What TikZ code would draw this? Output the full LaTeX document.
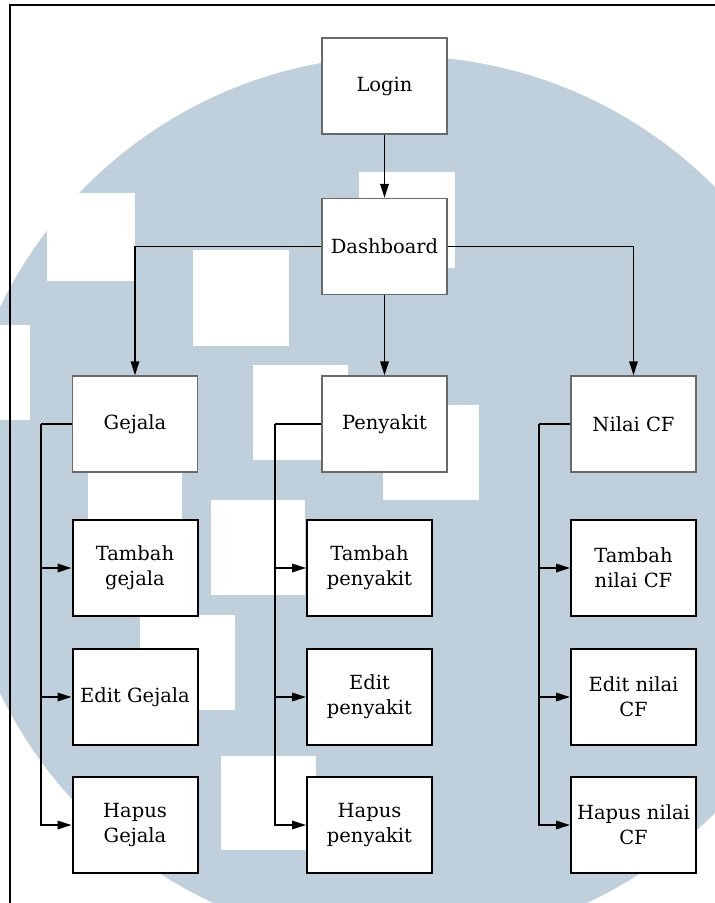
\documentclass[tikz,border=0pt]{standalone}
\usepackage{fontspec}
\setmainfont{DejaVu Serif}
\usetikzlibrary{arrows.meta}
\definecolor{wmblue}{RGB}{191,207,220}
\definecolor{topgray}{RGB}{105,105,105}
\tikzset{
  topbox/.style={draw=topgray, line width=1.4pt, fill=white, minimum width=125pt, minimum height=96pt, inner sep=0pt, align=center, font=\fontsize{19.5}{25}\selectfont},
  subbox/.style={draw=black, line width=2pt, fill=white, minimum width=125pt, minimum height=96pt, inner sep=0pt, align=center, font=\fontsize{19.5}{25}\selectfont},
  conn/.style={draw=black, line width=1.6pt},
  arr/.style={conn, -{Triangle[length=14pt,width=8.5pt]}},
  wsq/.style={fill=white}
}
\begin{document}
\begin{tikzpicture}[x=1pt,y=-1pt]
\useasboundingbox (0,0) rectangle (715,903);
\fill[white] (0,0) rectangle (715,903);
\begin{scope}
\clip (0,0) rectangle (715,903);
\fill[wmblue] (400,500) circle (444pt);
% watermark squares
\fill[wsq] (47,193) rectangle (135,281);
\fill[wsq] (193,250) rectangle (289,346);
\fill[wsq] (359,172) rectangle (455,268);
\fill[wsq] (0,325) rectangle (30,420);
\fill[wsq] (253,365) rectangle (348,460);
\fill[wsq] (383,405) rectangle (479,500);
\fill[wsq] (88,473) rectangle (182,568);
\fill[wsq] (211,500) rectangle (305,595);
\fill[wsq] (140,615) rectangle (235,710);
\fill[wsq] (221,756) rectangle (316,850);
\end{scope}
% frame
\draw[line width=2.6pt] (10,904) -- (10,5) -- (716,5);
% top-level nodes
\node[topbox] (login) at (384.5,86) {Login};
\node[topbox] (dash) at (384.5,246.5) {Dashboard};
\node[topbox] (gej) at (135,424) {Gejala};
\node[topbox] (pen) at (384.5,424) {Penyakit};
\node[topbox] (nil) at (633.5,424) {Nilai CF};
% children
\node[subbox] (tg) at (135,568) {Tambah\\gejala};
\node[subbox] (eg) at (135,697) {Edit Gejala};
\node[subbox] (hg) at (135,825) {Hapus\\Gejala};
\node[subbox] (tp) at (369.5,568) {Tambah\\penyakit};
\node[subbox] (ep) at (369.5,697) {Edit\\penyakit};
\node[subbox] (hp) at (369.5,825) {Hapus\\penyakit};
\node[subbox] (tn) at (633.5,568) {Tambah\\nilai CF};
\node[subbox] (en) at (633.5,697) {Edit nilai\\CF};
\node[subbox] (hn) at (633.5,825) {Hapus nilai\\CF};
% bus coordinates
\coordinate (gbus) at (41,424);
\coordinate (pbus) at (275,424);
\coordinate (nbus) at (539,424);
% connectors
\draw[arr] (login) -- (dash);
\draw[arr] (dash) -- (pen);
\draw[arr] (dash.west) -| (gej.north);
\draw[arr] (dash.east) -| (nil.north);
\draw[conn] (gej.west) -- (gbus);
\draw[arr] (gbus) |- (tg.west);
\draw[arr] (gbus) |- (eg.west);
\draw[arr] (gbus) |- (hg.west);
\draw[conn] (pen.west) -- (pbus);
\draw[arr] (pbus) |- (tp.west);
\draw[arr] (pbus) |- (ep.west);
\draw[arr] (pbus) |- (hp.west);
\draw[conn] (nil.west) -- (nbus);
\draw[arr] (nbus) |- (tn.west);
\draw[arr] (nbus) |- (en.west);
\draw[arr] (nbus) |- (hn.west);
\end{tikzpicture}
\end{document}
